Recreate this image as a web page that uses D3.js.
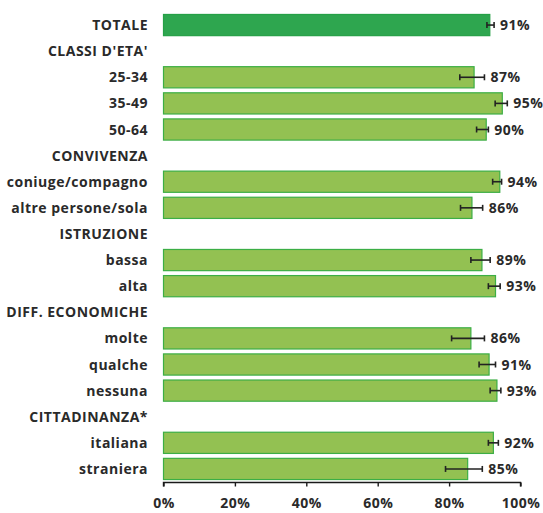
<!DOCTYPE html>
<html>
<head>
<meta charset="utf-8">
<script src="https://cdn.jsdelivr.net/npm/d3@7"></script>
<style>
  html, body { margin: 0; padding: 0; background: #fff; }
  svg { display: block; }
  text { font-family: "Open Sans", "DejaVu Sans", sans-serif; font-weight: 700; fill: #2a2a2a; letter-spacing: 0.5px; }
</style>
</head>
<body>
<svg id="chart" width="543" height="513"></svg>
<script>
// Row labels (section headers have no value)
const categories = [
  "TOTALE", "CLASSI D'ETA'", "25-34", "35-49", "50-64",
  "CONVIVENZA", "coniuge/compagno", "altre persone/sola",
  "ISTRUZIONE", "bassa", "alta",
  "DIFF. ECONOMICHE", "molte", "qualche", "nessuna",
  "CITTADINANZA*", "italiana", "straniera"
];
// Percentage values
const values = [
  91.4, null, 87.0, 94.9, 90.4,
  null, 94.2, 86.4,
  null, 89.2, 93.0,
  null, 86.1, 91.2, 93.4,
  null, 92.4, 85.2
];
// Confidence interval bounds
const lower = [
  90.6, null, 83.0, 92.9, 87.7,
  null, 92.2, 83.2,
  null, 86.1, 91.0,
  null, 80.7, 88.4, 91.5,
  null, 91.0, 79.0
];
const upper = [
  92.6, null, 89.9, 96.3, 91.0,
  null, 94.7, 89.4,
  null, 91.5, 94.3,
  null, 89.9, 93.0, 94.5,
  null, 93.8, 89.3
];
const ticks = [0, 20, 40, 60, 80, 100];

const rows = categories.map((c, i) => ({
  label: c, value: values[i], lo: lower[i], hi: upper[i], idx: i
}));

const svg = d3.select("#chart");
const x = d3.scaleLinear().domain([0, 100]).range([163.5, 520.5]);
const y = d3.scaleBand().domain(categories).range([12, 482]).paddingInner(0.15).paddingOuter(0.075);

// Category labels
svg.append("g").selectAll("text")
  .data(rows).join("text")
  .attr("x", 148)
  .attr("y", d => y(d.label) + y.bandwidth() / 2)
  .attr("dy", "0.36em")
  .attr("text-anchor", "end")
  .attr("font-size", 14)
  .text(d => d.label);

const data = rows.filter(d => d.value !== null);

// Bars
svg.append("g").selectAll("rect")
  .data(data).join("rect")
  .attr("x", x(0))
  .attr("y", d => y(d.label) + 0.5)
  .attr("width", d => x(d.value) - x(0))
  .attr("height", y.bandwidth() - 1)
  .attr("fill", d => d.idx === 0 ? "#2ea64f" : "#93c152")
  .attr("stroke", d => d.idx === 0 ? "#25a046" : "#3cae45")
  .attr("stroke-width", 1.2);

// Error bars
const err = svg.append("g").attr("stroke", "#222").attr("stroke-width", 1.6);
data.forEach(d => {
  const cy = y(d.label) + y.bandwidth() / 2;
  err.append("line").attr("x1", x(d.lo)).attr("x2", x(d.hi)).attr("y1", cy).attr("y2", cy);
  err.append("line").attr("x1", x(d.lo)).attr("x2", x(d.lo)).attr("y1", cy - 3).attr("y2", cy + 3);
  err.append("line").attr("x1", x(d.hi)).attr("x2", x(d.hi)).attr("y1", cy - 3).attr("y2", cy + 3);
});

// Value labels
svg.append("g").selectAll("text")
  .data(data).join("text")
  .attr("x", d => x(d.hi) + 6)
  .attr("y", d => y(d.label) + y.bandwidth() / 2)
  .attr("dy", "0.36em")
  .attr("font-size", 14)
  .text(d => d3.format(".0f")(d.value) + "%");

// X axis
const axis = svg.append("g")
  .attr("transform", "translate(0,482.5)")
  .call(d3.axisBottom(x).tickValues(ticks).tickSize(4).tickPadding(12).tickFormat(d => d + "%"));
axis.select(".domain").attr("stroke", "#1a1a1a").attr("stroke-width", 1.4).attr("d", `M${x(0)},4V0H${x(100)}V4`);
axis.selectAll(".tick line").attr("stroke", "#1a1a1a").attr("stroke-width", 1.4);
axis.selectAll(".tick text")
  .attr("font-size", 14)
  .attr("font-family", "'Open Sans', 'DejaVu Sans', sans-serif")
  .attr("font-weight", 700)
  .attr("fill", "#2a2a2a");
</script>
</body>
</html>
